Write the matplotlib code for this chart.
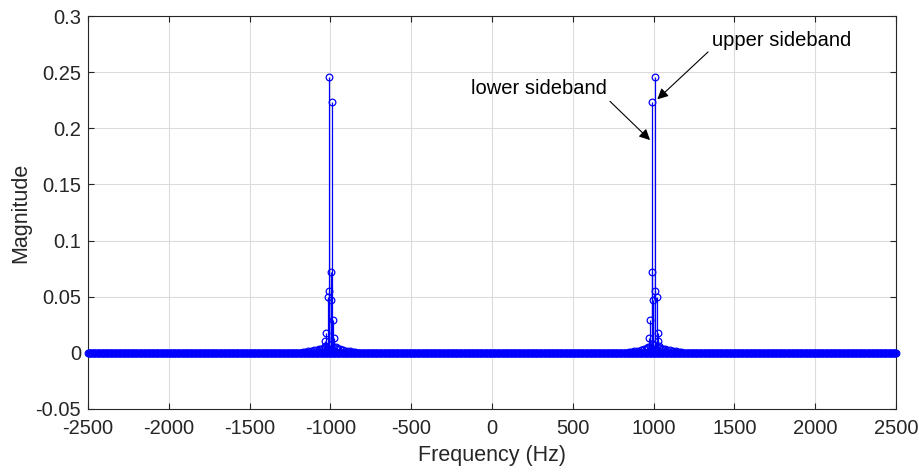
import numpy as np
import matplotlib
matplotlib.use("Agg")
import matplotlib.pyplot as plt

plt.rcParams['font.family'] = ['Liberation Sans', 'DejaVu Sans']

# ---- data ----
# zero-valued FFT bins across the whole band
base_step_hz = 5
base_freq = np.arange(-2500, 2501, base_step_hz)
base_mag = np.zeros_like(base_freq, dtype=float)

# bins around the negative-frequency peak (Hz, magnitude)
neg_freq = [-1010, -990, -996, -1007, -1013, -998, -986, -1025, -976, -1031,
            -995, -1004, -1036, -966, -1042, -958,
            -950, -940, -930, -920, -900, -880, -860, -848,
            -1050, -1060, -1070, -1080, -1100, -1120, -1140, -1160, -1170]
neg_mag = [0.246, 0.223, 0.072, 0.0555, 0.0496, 0.047, 0.029, 0.018, 0.013, 0.011,
           0.008, 0.007, 0.006, 0.005, 0.004, 0.004,
           0.0035, 0.003, 0.0028, 0.0025, 0.002, 0.0015, 0.001, 0.0008,
           0.0035, 0.0032, 0.003, 0.0028, 0.0024, 0.002, 0.0015, 0.001, 0.0008]

# bins around the positive-frequency peak (Hz, magnitude)
pos_freq = [1010, 990, 992, 1008, 1018, 998, 980, 1025, 973, 1027,
            995, 1004, 1036, 966, 1042, 958,
            950, 940, 930, 920, 900, 880, 860, 848,
            1050, 1060, 1070, 1080, 1100, 1120, 1140, 1160, 1170]
pos_mag = [0.246, 0.223, 0.072, 0.0555, 0.0496, 0.047, 0.029, 0.018, 0.013, 0.011,
           0.008, 0.007, 0.006, 0.005, 0.004, 0.004,
           0.0035, 0.003, 0.0028, 0.0025, 0.002, 0.0015, 0.001, 0.0008,
           0.0035, 0.0032, 0.003, 0.0028, 0.0024, 0.002, 0.0015, 0.001, 0.0008]

x_ticks = [-2500, -2000, -1500, -1000, -500, 0, 500, 1000, 1500, 2000, 2500]
y_ticks = [-0.05, 0, 0.05, 0.1, 0.15, 0.2, 0.25, 0.3]
y_tick_labels = ['-0.05', '0', '0.05', '0.1', '0.15', '0.2', '0.25', '0.3']

# ---- plot ----
fig = plt.figure(figsize=(9.19, 4.72), dpi=100)
ax = fig.add_axes([88/919, 1-409/472, (896-88)/919, (409-16)/472])

freq = np.concatenate([base_freq, np.array(neg_freq), np.array(pos_freq)])
mag = np.concatenate([base_mag, np.array(neg_mag), np.array(pos_mag)])
order = np.argsort(freq, kind='stable')
freq = freq[order]
mag = mag[order]

blue = (0, 0, 1)
ax.vlines(freq, 0, mag, colors=[blue], linewidth=0.9, zorder=3)
ax.plot(freq, mag, linestyle='none', marker='o', markersize=4.8,
        markerfacecolor='none', markeredgecolor=blue, markeredgewidth=0.9,
        zorder=4, clip_on=False)

ax.set_xlim(-2500, 2500)
ax.set_ylim(-0.05, 0.3)
ax.set_xticks(x_ticks)
ax.set_xticklabels([str(v) for v in x_ticks])
ax.set_yticks(y_ticks)
ax.set_yticklabels(y_tick_labels)

ax.grid(True, color='#dcdcdc', linewidth=0.8, zorder=0)
ax.set_axisbelow(True)
for s in ax.spines.values():
    s.set_color('#262626')
    s.set_linewidth(0.8)
ax.tick_params(direction='in', length=4, width=0.8, colors='#262626',
               labelsize=14.5, top=True, right=True, pad=5)
ax.tick_params(axis='x', pad=7)

ax.set_xlabel('Frequency (Hz)', fontsize=15.5, color='#262626', labelpad=5)
ax.set_ylabel('Magnitude', fontsize=15.5, color='#262626', labelpad=3)

# annotations
arrow = dict(arrowstyle='-|>', color='black', lw=0.8, mutation_scale=16,
             shrinkA=0, shrinkB=0)
ax.annotate('', xy=(1023, 0.2258), xytext=(1337, 0.268), arrowprops=arrow, zorder=5)
ax.text(1361, 0.278, 'upper sideband', fontsize=14.5, color='black',
        ha='left', va='center')
ax.annotate('', xy=(978, 0.1895), xytext=(730, 0.224), arrowprops=arrow, zorder=5)
ax.text(712, 0.235, 'lower sideband', fontsize=14.5, color='black',
        ha='right', va='center')

fig.savefig('out.png', dpi=100)
